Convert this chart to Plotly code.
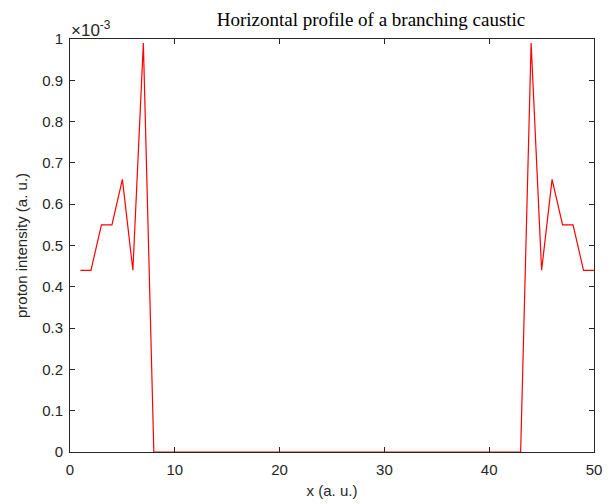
import plotly.graph_objects as go

x = list(range(1, 51))
left = [0.44, 0.44, 0.55, 0.55, 0.66, 0.44, 0.99]
right = [0.99, 0.44, 0.66, 0.55, 0.55, 0.44, 0.44]
intensity = [v * 1e-3 for v in left] + [0.0] * 36 + [v * 1e-3 for v in right]

ytick_vals = [i * 1e-4 for i in range(11)]
ytick_text = ["0", "0.1", "0.2", "0.3", "0.4", "0.5", "0.6", "0.7", "0.8", "0.9", "1"]
xtick_vals = [0, 10, 20, 30, 40, 50]

fig = go.Figure()
fig.add_trace(go.Scatter(x=x, y=intensity, mode="lines",
                         line=dict(color="#ff0000", width=1.2), showlegend=False))

axis_color = "#262626"
fig.update_layout(
    width=611, height=504,
    margin=dict(l=70, r=17, t=39, b=52, autoexpand=False),
    paper_bgcolor="white", plot_bgcolor="white",
    title=dict(text="Horizontal profile of a branching caustic",
               font=dict(family="Liberation Serif", size=19, color="black"),
               x=371 / 611, xref="container", xanchor="center",
               y=1, yref="paper", yanchor="bottom", pad=dict(b=13)),
    font=dict(family="Liberation Sans", size=13, color=axis_color),
)
fig.update_xaxes(range=[0, 50], tickvals=xtick_vals, ticks="inside", ticklen=5,
                 tickcolor=axis_color, showline=True, linecolor=axis_color, linewidth=1,
                 mirror="ticks", showgrid=False, zeroline=False, automargin=False,
                 ticklabelstandoff=4,
                 title=dict(text="x (a. u.)", font=dict(size=15), standoff=8),
                 tickfont=dict(size=15))
fig.update_yaxes(range=[0, 1e-3], tickvals=ytick_vals, ticktext=ytick_text,
                 ticks="inside", ticklen=5, tickcolor=axis_color, showline=True,
                 linecolor=axis_color, linewidth=1, mirror="ticks", showgrid=False,
                 zeroline=False, automargin=False, ticklabelstandoff=3,
                 title=dict(text="proton intensity (a. u.)", font=dict(size=15), standoff=10),
                 tickfont=dict(size=15))
fig.add_annotation(text="×10<sup>-3</sup>", xref="paper", yref="paper",
                   x=0, y=1, xanchor="left", yanchor="bottom", showarrow=False,
                   font=dict(family="Liberation Sans", size=17, color=axis_color),
                   xshift=-1, yshift=-3)
fig.write_html("out.html", config={"displayModeBar": False},
               post_script="document.body.style.margin='0';")
